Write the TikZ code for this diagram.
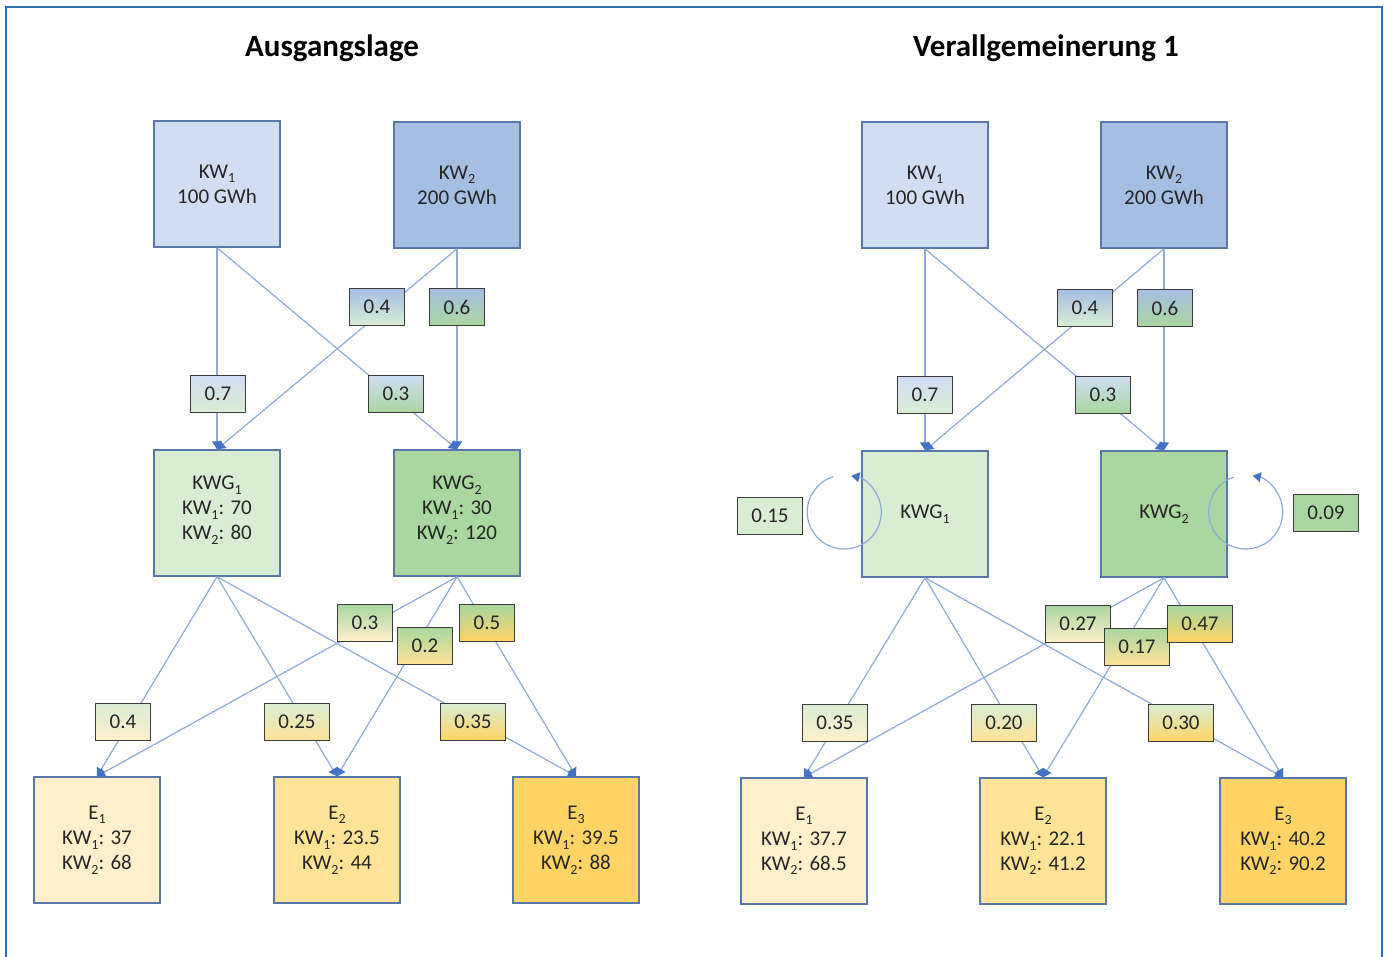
\documentclass[tikz,border=0pt]{standalone}
\usepackage{fontspec}
\setmainfont{Carlito}
\usetikzlibrary{arrows.meta,calc}

\definecolor{kwa}{RGB}{208,221,242}
\definecolor{kwb}{RGB}{166,190,226}
\definecolor{kwga}{RGB}{217,237,212}
\definecolor{kwgb}{RGB}{170,214,160}
\definecolor{ea}{RGB}{255,240,204}
\definecolor{eb}{RGB}{255,227,150}
\definecolor{ec}{RGB}{255,212,100}
\definecolor{boxline}{RGB}{88,120,172}
\definecolor{wtline}{RGB}{60,60,60}
\definecolor{linkline}{RGB}{143,170,218}
\definecolor{tipblue}{RGB}{68,114,196}
\definecolor{framec}{RGB}{46,110,180}
\definecolor{txt}{RGB}{38,38,38}

\newcommand\ix[1]{\raisebox{-0.45ex}{\fontsize{7}{7}\selectfont #1}}

\tikzset{
  box/.style={draw=boxline, line width=0.75pt, minimum width=63pt, minimum height=63pt,
    align=center, text=txt, font=\fontsize{10.5}{12.5}\selectfont},
  wt/.style={draw=wtline, line width=0.6pt, minimum height=18.5pt, inner xsep=7pt,
    inner ysep=0pt, text=txt, font=\fontsize{10.5}{12}\selectfont},
  link/.style={draw=linkline, line width=0.6pt, -{Triangle[length=4pt,width=5pt,color=tipblue]}},
  selfloop/.style={draw=linkline, line width=0.6pt, -{Triangle[length=4pt,width=5pt,color=tipblue]}},
  hd/.style={font=\fontsize{15.5}{18}\selectfont\bfseries},
}

\begin{document}
\begin{tikzpicture}[x=0.5pt,y=-0.5pt]
\useasboundingbox (0,0) rectangle (1387,957);
\draw[framec, line width=1pt] (6,957) -- (6,7) -- (1382,7) -- (1382,957);

%% Ausgangslage
\node[hd] (l-title) at (332,48) {Ausgangslage};
\node[box, fill=kwa] (l-kw1) at (217,184) {KW\ix{1}\\100 GWh};
\node[box, fill=kwb] (l-kw2) at (457,185) {KW\ix{2}\\200 GWh};
\node[box, fill=kwga] (l-kwg1) at (217,513) {KWG\ix{1}\\KW\ix{1}: 70\\KW\ix{2}: 80\\[-7.5pt]};
\node[box, fill=kwgb] (l-kwg2) at (457,513) {KWG\ix{2}\\KW\ix{1}: 30\\KW\ix{2}: 120\\[-7.5pt]};
\node[box, fill=ea] (l-e1) at (97,840) {E\ix{1}\\KW\ix{1}: 37\\KW\ix{2}: 68};
\node[box, fill=eb] (l-e2) at (337,840) {E\ix{2}\\KW\ix{1}: 23.5\\KW\ix{2}: 44};
\node[box, fill=ec] (l-e3) at (576,840) {E\ix{3}\\KW\ix{1}: 39.5\\KW\ix{2}: 88};

\draw[link] (l-kw1.south) -- (l-kwg1.north);
\draw[link] (l-kw1.south) -- (l-kwg2.north);
\draw[link] (l-kw2.south) -- (l-kwg1.north);
\draw[link] (l-kw2.south) -- (l-kwg2.north);
\draw[link] (l-kwg1.south) -- (l-e1.north);
\draw[link] (l-kwg1.south) -- (l-e2.north);
\draw[link] (l-kwg1.south) -- (l-e3.north);
\draw[link] (l-kwg2.south) -- (l-e1.north);
\draw[link] (l-kwg2.south) -- (l-e2.north);
\draw[link] (l-kwg2.south) -- (l-e3.north);

\node[wt, top color=kwa, bottom color=kwga] (l-w11) at (218,394) {0.7};
\node[wt, top color=kwa, bottom color=kwgb] (l-w12) at (396,394) {0.3};
\node[wt, top color=kwb, bottom color=kwga] (l-w21) at (377,307) {0.4};
\node[wt, top color=kwb, bottom color=kwgb] (l-w22) at (457,307) {0.6};
\node[wt, top color=kwga, bottom color=ea] (l-g11) at (123,722) {0.4};
\node[wt, top color=kwga, bottom color=eb] (l-g12) at (297,722) {0.25};
\node[wt, top color=kwga, bottom color=ec] (l-g13) at (473,722) {0.35};
\node[wt, top color=kwgb, bottom color=ea] (l-g21) at (365,623) {0.3};
\node[wt, top color=kwgb, bottom color=eb] (l-g22) at (425,646) {0.2};
\node[wt, top color=kwgb, bottom color=ec] (l-g23) at (487,623) {0.5};

%% Verallgemeinerung 1
\node[hd] (r-title) at (1046,48) {Verallgemeinerung 1};
\node[box, fill=kwa] (r-kw1) at (925,185) {KW\ix{1}\\100 GWh};
\node[box, fill=kwb] (r-kw2) at (1164,185) {KW\ix{2}\\200 GWh};
\node[box, fill=kwga] (r-kwg1) at (925,514) {KWG\ix{1}};
\node[box, fill=kwgb] (r-kwg2) at (1164,514) {KWG\ix{2}};
\node[box, fill=ea] (r-e1) at (804,841) {E\ix{1}\\KW\ix{1}: 37.7\\KW\ix{2}: 68.5};
\node[box, fill=eb] (r-e2) at (1043,841) {E\ix{2}\\KW\ix{1}: 22.1\\KW\ix{2}: 41.2};
\node[box, fill=ec] (r-e3) at (1283,841) {E\ix{3}\\KW\ix{1}: 40.2\\KW\ix{2}: 90.2};

\draw[link] (r-kw1.south) -- (r-kwg1.north);
\draw[link] (r-kw1.south) -- (r-kwg2.north);
\draw[link] (r-kw2.south) -- (r-kwg1.north);
\draw[link] (r-kw2.south) -- (r-kwg2.north);
\draw[link] (r-kwg1.south) -- (r-e1.north);
\draw[link] (r-kwg1.south) -- (r-e2.north);
\draw[link] (r-kwg1.south) -- (r-e3.north);
\draw[link] (r-kwg2.south) -- (r-e1.north);
\draw[link] (r-kwg2.south) -- (r-e2.north);
\draw[link] (r-kwg2.south) -- (r-e3.north);

%% self loops
\draw[selfloop] ($(r-kwg1.west)+(-17,-2)+(-107:37)$) arc[start angle=-107, end angle=-439, radius=37];
\draw[selfloop] ($(r-kwg2.east)+(18,-2)+(-109:37)$) arc[start angle=-109, end angle=-439, radius=37];

\node[wt, top color=kwa, bottom color=kwga] (r-w11) at (925,395) {0.7};
\node[wt, top color=kwa, bottom color=kwgb] (r-w12) at (1103,395) {0.3};
\node[wt, top color=kwb, bottom color=kwga] (r-w21) at (1085,308) {0.4};
\node[wt, top color=kwb, bottom color=kwgb] (r-w22) at (1165,308) {0.6};
\node[wt, fill=kwga] (r-s1) at (770,516) {0.15};
\node[wt, fill=kwgb] (r-s2) at (1326,513) {0.09};
\node[wt, top color=kwga, bottom color=ea] (r-g11) at (835,723) {0.35};
\node[wt, top color=kwga, bottom color=eb] (r-g12) at (1004,723) {0.20};
\node[wt, top color=kwga, bottom color=ec] (r-g13) at (1181,723) {0.30};
\node[wt, top color=kwgb, bottom color=ea] (r-g21) at (1078,624) {0.27};
\node[wt, top color=kwgb, bottom color=eb] (r-g22) at (1137,647) {0.17};
\node[wt, top color=kwgb, bottom color=ec] (r-g23) at (1200,624) {0.47};
\end{tikzpicture}
\end{document}
